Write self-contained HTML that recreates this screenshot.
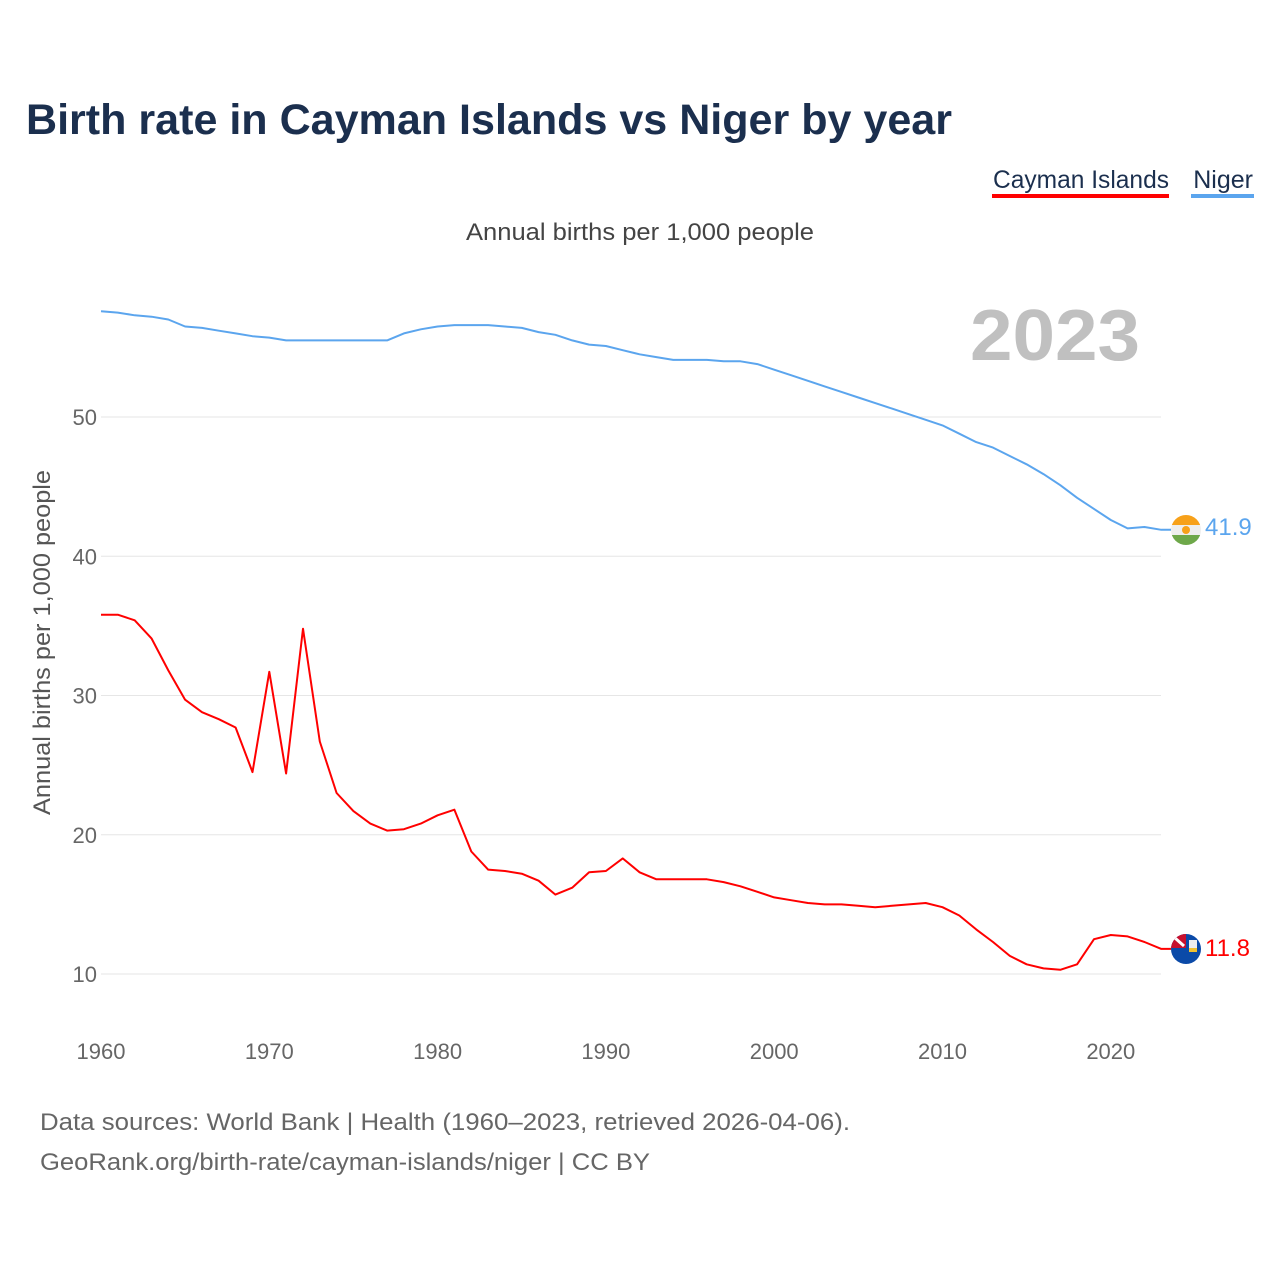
<!DOCTYPE html>
<html><head><meta charset="utf-8"><style>
body{margin:0;background:#fff;font-family:"Liberation Sans",sans-serif;}
svg{display:block}
</style></head><body>
<svg id="chart" width="1280" height="1280" xmlns="http://www.w3.org/2000/svg">
<text x="26" y="134" font-size="43" font-weight="bold" fill="#1b2f4e" textLength="926" lengthAdjust="spacingAndGlyphs">Birth rate in Cayman Islands vs Niger by year</text>
<g>
<text x="993" y="188" font-size="25" fill="#1b2f4e" textLength="176" lengthAdjust="spacingAndGlyphs">Cayman Islands</text>
<rect x="992" y="194" width="177" height="4" fill="#ff0000"/>
<text x="1253" y="188" font-size="25" fill="#1b2f4e" text-anchor="end">Niger</text>
<rect x="1191" y="194" width="63" height="4" fill="#5ba5ee"/>
</g>
<text x="466" y="240" font-size="24" fill="#444" textLength="348" lengthAdjust="spacingAndGlyphs">Annual births per 1,000 people</text>
<text x="970" y="360" font-size="72" font-weight="bold" fill="#c0c0c0" textLength="170" lengthAdjust="spacingAndGlyphs">2023</text>
<text transform="translate(50,815) rotate(-90)" font-size="24" fill="#555" textLength="345" lengthAdjust="spacingAndGlyphs">Annual births per 1,000 people</text>
<g id="grid"></g>
<g id="yticks"></g>
<g id="xticks"></g>
<g id="series"></g>
<g>
<clipPath id="cn"><circle cx="1186" cy="530" r="15"/></clipPath>
<g clip-path="url(#cn)"><rect x="1171" y="515" width="30" height="10" fill="#f7a11a"/><rect x="1171" y="525" width="30" height="10" fill="#eee"/><rect x="1171" y="535" width="30" height="10" fill="#6ea84a"/><circle cx="1186" cy="530" r="4" fill="#f7a11a"/></g>
</g>
<g>
<clipPath id="cc"><circle cx="1186" cy="949" r="15"/></clipPath>
<g clip-path="url(#cc)"><rect x="1171" y="934" width="30" height="30" fill="#0b4aa8"/><rect x="1171" y="934" width="15" height="14" fill="#c8102e"/><path d="M1175 938 L1184 946" stroke="#fff" stroke-width="3"/><rect x="1189" y="940" width="8" height="10" fill="#eee"/><rect x="1189" y="948" width="8" height="4" fill="#f2c230"/></g>
</g>
<text x="1205" y="535" font-size="24" fill="#5ba5ee">41.9</text>
<text x="1205" y="956" font-size="24" fill="#ff0000">11.8</text>
<text x="40" y="1130" font-size="24" fill="#666" textLength="810" lengthAdjust="spacingAndGlyphs">Data sources: World Bank | Health (1960–2023, retrieved 2026-04-06).</text>
<text x="40" y="1170" font-size="24" fill="#666" textLength="610" lengthAdjust="spacingAndGlyphs">GeoRank.org/birth-rate/cayman-islands/niger | CC BY</text>
</svg>
<script>
const years=[];for(let y=1960;y<=2023;y++)years.push(y);
const niger=[57.6,57.5,57.3,57.2,57.0,56.5,56.4,56.2,56.0,55.8,55.7,55.5,55.5,55.5,55.5,55.5,55.5,55.5,56.0,56.3,56.5,56.6,56.6,56.6,56.5,56.4,56.1,55.9,55.5,55.2,55.1,54.8,54.5,54.3,54.1,54.1,54.1,54.0,54.0,53.8,53.4,53.0,52.6,52.2,51.8,51.4,51.0,50.6,50.2,49.8,49.4,48.8,48.2,47.8,47.2,46.6,45.9,45.1,44.2,43.4,42.6,42.0,42.1,41.9];
const cayman=[35.8,35.8,35.4,34.1,31.8,29.7,28.8,28.3,27.7,24.5,31.7,24.4,34.8,26.7,23.0,21.7,20.8,20.3,20.4,20.8,21.4,21.8,18.8,17.5,17.4,17.2,16.7,15.7,16.2,17.3,17.4,18.3,17.3,16.8,16.8,16.8,16.8,16.6,16.3,15.9,15.5,15.3,15.1,15.0,15.0,14.9,14.8,14.9,15.0,15.1,14.8,14.2,13.2,12.3,11.3,10.7,10.4,10.3,10.7,12.5,12.8,12.7,12.3,11.8];
const yTicks=[10,20,30,40,50];
const xTicks=[1960,1970,1980,1990,2000,2010,2020];
const X=v=>101+(v-1960)*16.83;
const Y=v=>974-(v-10)*13.925;
const NS="http://www.w3.org/2000/svg";
function mk(tag,attrs,parent){const e=document.createElementNS(NS,tag);for(const k in attrs)e.setAttribute(k,attrs[k]);parent.appendChild(e);return e;}
const grid=document.getElementById('grid'),yt=document.getElementById('yticks'),xt=document.getElementById('xticks'),ser=document.getElementById('series');
yTicks.forEach(t=>{
 const l=mk('line',{x1:101,x2:1161,y1:Y(t),y2:Y(t),stroke:'#e6e6e6','stroke-width':1},grid);
 
 
 const tx=mk('text',{x:97,y:Y(t)+8,'font-size':22,fill:'#666','text-anchor':'end'},yt);tx.textContent=t;
 
 
});
xTicks.forEach(t=>{
 const tx=mk('text',{x:X(t),y:1059,'font-size':22,fill:'#666','text-anchor':'middle'},xt);tx.textContent=t;
 
 
});
function line(data,color,name){
 const d=data.map((v,i)=>(i?'L':'M')+X(years[i]).toFixed(1)+' '+Y(v).toFixed(1)).join(' ')+' L1171 '+Y(data[data.length-1]).toFixed(1);
 const p=mk('path',{d:d,fill:'none',stroke:color,'stroke-width':2,'stroke-linejoin':'round'},ser);
 
 
}
line(niger,'#5ba5ee','niger-line');
line(cayman,'#ff0000','cayman-line');
</script>
</body></html>
